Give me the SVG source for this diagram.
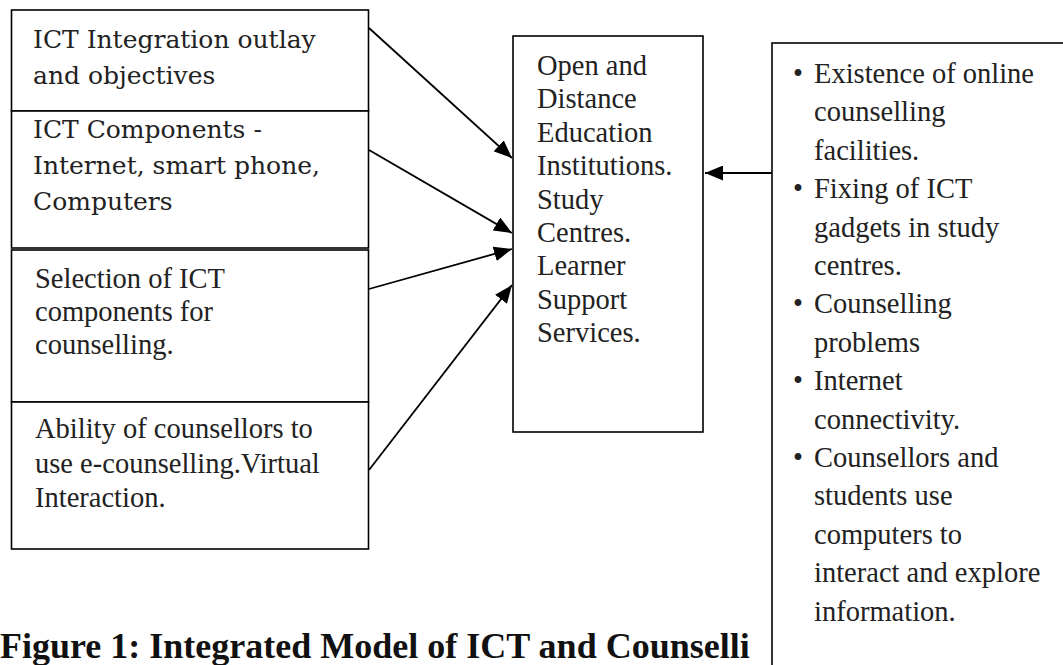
<svg xmlns="http://www.w3.org/2000/svg" width="1063" height="665" viewBox="0 0 1063 665">
<style>
.box{fill:#fff;stroke:#000;stroke-width:1.6}
.pal{font-family:"DejaVu Serif","Liberation Serif",serif;font-size:25px;fill:#222}
.tms{font-family:"Liberation Serif","Times New Roman",serif;font-size:28.5px;fill:#222}
.cap{font-family:"Liberation Serif","Times New Roman",serif;font-size:36px;font-weight:bold;fill:#111}
.conn{stroke:#000;stroke-width:1.8;fill:none}
</style>
<defs>
<marker id="ah" markerUnits="userSpaceOnUse" markerWidth="19" markerHeight="15" refX="18" refY="7.5" orient="auto">
<path d="M0,0 L18,7.5 L0,15 z" fill="#000"/>
</marker>
</defs>
<rect width="1063" height="665" fill="#fff"/>
<text class="cap" x="0" y="658">Figure 1: Integrated Model of ICT and Counselli</text>
<g id="box1">
<rect class="box" x="11.5" y="10" width="357" height="101"/>
<text class="pal" x="33" y="48">ICT Integration outlay</text>
<text class="pal" x="33" y="84">and objectives</text>
</g>
<g id="box2">
<rect class="box" x="11.5" y="111" width="357" height="137"/>
<text class="pal" x="33" y="138">ICT Components -</text>
<text class="pal" x="33" y="174">Internet, smart phone,</text>
<text class="pal" x="33" y="210">Computers</text>
</g>
<g id="box3">
<rect class="box" x="11.5" y="250" width="357" height="152"/>
<text class="tms" x="35" y="288">Selection of ICT</text>
<text class="tms" x="35" y="321">components for</text>
<text class="tms" x="35" y="354">counselling.</text>
</g>
<g id="box4">
<rect class="box" x="11.5" y="402" width="357" height="147"/>
<text class="tms" x="35" y="438">Ability of counsellors to</text>
<text class="tms" x="35" y="472.5">use e-counselling.Virtual</text>
<text class="tms" x="35" y="507">Interaction.</text>
</g>
<g id="center">
<rect class="box" x="513" y="36" width="190" height="396"/>
<text class="tms" x="537" y="75">Open and</text>
<text class="tms" x="537" y="108.4">Distance</text>
<text class="tms" x="537" y="141.8">Education</text>
<text class="tms" x="537" y="175.2">Institutions.</text>
<text class="tms" x="537" y="208.6">Study</text>
<text class="tms" x="537" y="242">Centres.</text>
<text class="tms" x="537" y="275.4">Learner</text>
<text class="tms" x="537" y="308.8">Support</text>
<text class="tms" x="537" y="342.2">Services.</text>
</g>
<g id="factors">
<rect class="box" x="772" y="43" width="400" height="700"/>
<text class="tms" x="793" y="83">•</text>
<text class="tms" x="814" y="83">Existence of online</text>
<text class="tms" x="814" y="121.4">counselling</text>
<text class="tms" x="814" y="159.8">facilities.</text>
<text class="tms" x="793" y="198.2">•</text>
<text class="tms" x="814" y="198.2">Fixing of ICT</text>
<text class="tms" x="814" y="236.6">gadgets in study</text>
<text class="tms" x="814" y="275">centres.</text>
<text class="tms" x="793" y="313.4">•</text>
<text class="tms" x="814" y="313.4">Counselling</text>
<text class="tms" x="814" y="351.8">problems</text>
<text class="tms" x="793" y="390.2">•</text>
<text class="tms" x="814" y="390.2">Internet</text>
<text class="tms" x="814" y="428.6">connectivity.</text>
<text class="tms" x="793" y="467">•</text>
<text class="tms" x="814" y="467">Counsellors and</text>
<text class="tms" x="814" y="505.4">students use</text>
<text class="tms" x="814" y="543.8">computers to</text>
<text class="tms" x="814" y="582.2">interact and explore</text>
<text class="tms" x="814" y="620.6">information.</text>
</g>
<g id="connectors">
<line class="conn" x1="369" y1="28" x2="512" y2="158" marker-end="url(#ah)"/>
<line class="conn" x1="369" y1="150" x2="512" y2="233" marker-end="url(#ah)"/>
<line class="conn" x1="369" y1="289" x2="512" y2="249" marker-end="url(#ah)"/>
<line class="conn" x1="369" y1="470" x2="512" y2="285" marker-end="url(#ah)"/>
<line class="conn" x1="772" y1="173" x2="705" y2="173" marker-end="url(#ah)"/>
</g>
</svg>
